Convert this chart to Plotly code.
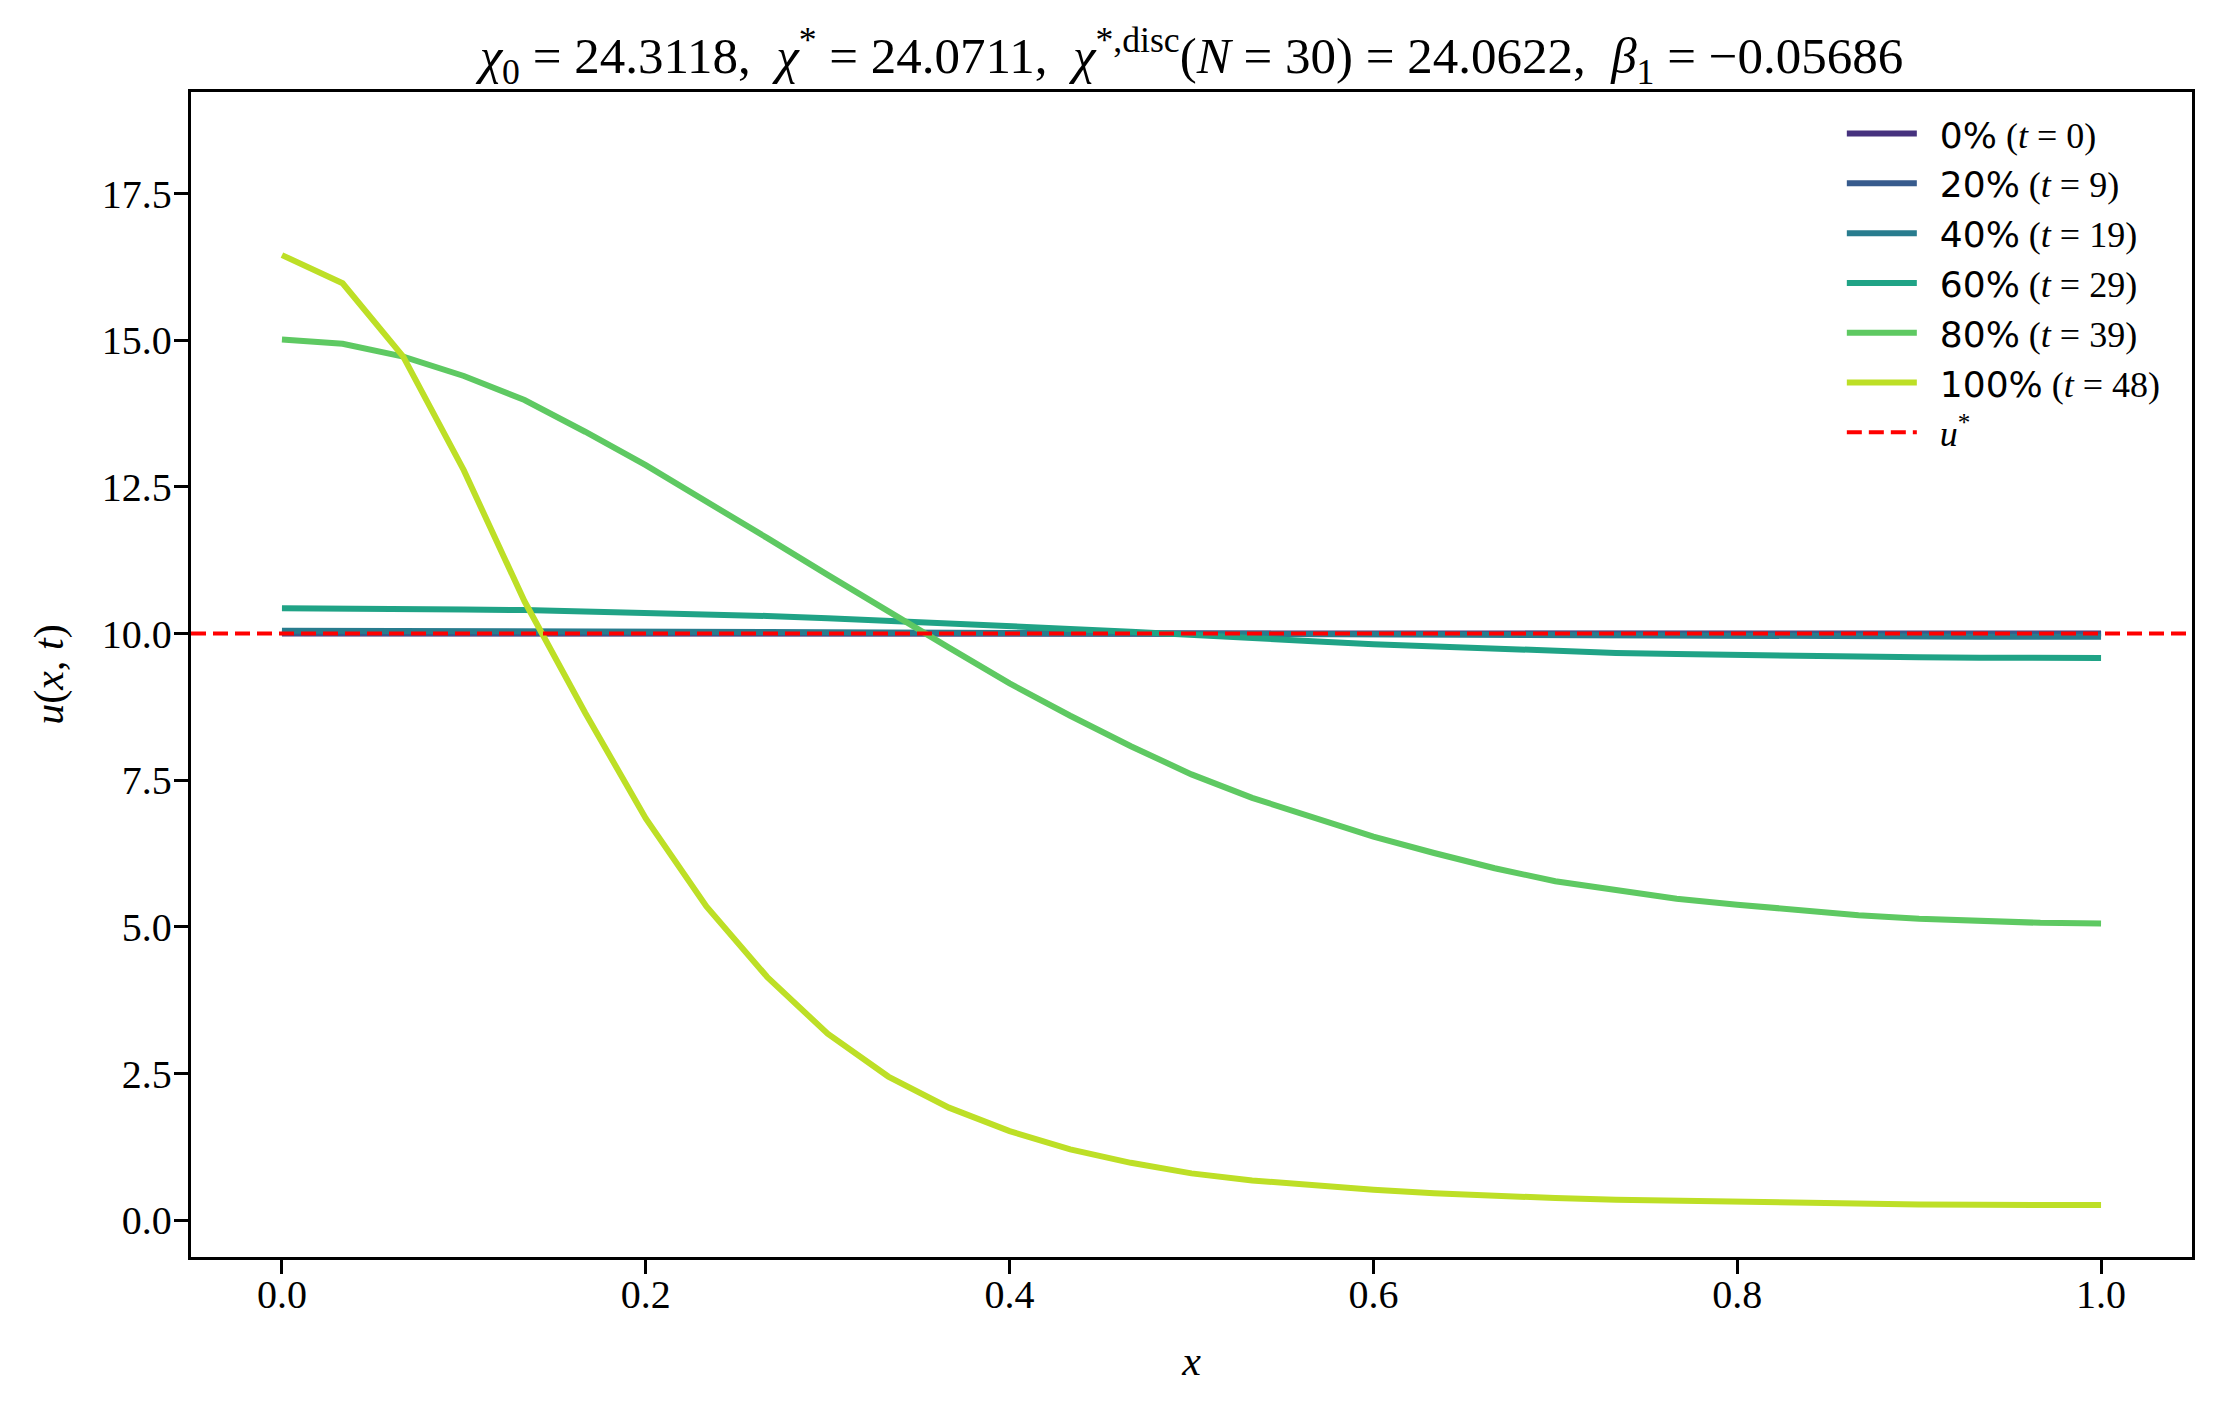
import numpy as np
import plotly.graph_objects as go

# grid: N = 30 intervals on [0, 1]
x = np.linspace(0, 1, 31)

labels = ["0%", "20%", "40%", "60%", "80%", "100%"]
t_vals = [0, 9, 19, 29, 39, 48]
colors = ["#46327e", "#375b8d", "#287c8e", "#20a386", "#5ec962", "#bddf26"]

u_0 = [10.0] * 31
u_20 = [10.01, 10.01, 10.01, 10.01, 10.009, 10.008, 10.007, 10.006, 10.005, 10.004,
        10.003, 10.002, 10.001, 10.001, 10.0, 10.0, 10.0, 9.999, 9.999, 9.998,
        9.997, 9.996, 9.995, 9.994, 9.993, 9.992, 9.991, 9.991, 9.99, 9.99, 9.99]
u_40 = [10.05, 10.05, 10.05, 10.045, 10.043, 10.04, 10.036, 10.032, 10.027, 10.022,
        10.017, 10.012, 10.007, 10.002, 9.998, 9.994, 9.99, 9.985, 9.98, 9.976,
        9.972, 9.968, 9.964, 9.96, 9.957, 9.954, 9.952, 9.95, 9.948, 9.947, 9.947]
u_60 = [10.43, 10.43, 10.42, 10.41, 10.40, 10.38, 10.36, 10.33, 10.30, 10.26,
        10.22, 10.18, 10.13, 10.08, 10.03, 9.97, 9.92, 9.87, 9.82, 9.78,
        9.74, 9.70, 9.67, 9.65, 9.63, 9.615, 9.60, 9.595, 9.59, 9.585, 9.585]
u_80 = [15.01, 14.94, 14.72, 14.39, 13.98, 13.44, 12.87, 12.26, 11.63, 11.00,
        10.37, 9.76, 9.15, 8.60, 8.08, 7.60, 7.20, 6.86, 6.54, 6.26,
        6.00, 5.78, 5.62, 5.48, 5.38, 5.28, 5.20, 5.14, 5.10, 5.07, 5.06]
u_100 = [16.45, 15.97, 14.72, 12.78, 10.55, 8.65, 6.85, 5.35, 4.15, 3.18,
         2.45, 1.92, 1.52, 1.21, 0.98, 0.80, 0.68, 0.59, 0.52, 0.46,
         0.41, 0.38, 0.35, 0.33, 0.31, 0.29, 0.28, 0.27, 0.265, 0.26, 0.26]
profiles = [u_0, u_20, u_40, u_60, u_80, u_100]

u_star = 10.0

serif = "Liberation Serif, DejaVu Serif, serif"
sans = "DejaVu Sans"

fig = go.Figure()

for lab, t, col, u in zip(labels, t_vals, colors, profiles):
    name = (f'&nbsp;&nbsp;<span style="font-family:{sans};font-size:36px">{lab}</span>'
            f' (<i>t</i> = {t})')
    fig.add_trace(go.Scatter(x=x, y=u, mode='lines', name=name,
                             line=dict(color=col, width=6)))

# u* reference line across the whole axis, plus a legend entry for it
fig.add_hline(y=u_star, line=dict(color='red', width=4, dash='15px,7px'))
fig.add_trace(go.Scatter(x=[None], y=[None], mode='lines',
                         name='&nbsp;&nbsp;<i>u</i><sup>*</sup>',
                         line=dict(color='red', width=4, dash='15px,7px')))

title = ("<i>χ</i><sub>0</sub> = 24.3118,  <i>χ</i><sup>*</sup> = 24.0711,  "
         "<i>χ</i><sup>*,disc</sup>(<i>N</i> = 30) = 24.0622,  "
         "<i>β</i><sub>1</sub> = −0.05686")

axis_style = dict(showline=True, linecolor='black', linewidth=3.3, mirror=True,
                  ticks='outside', ticklen=14, tickwidth=3.3, tickcolor='black',
                  showgrid=False, zeroline=False,
                  tickfont=dict(family=serif, size=40, color='black'))

fig.update_layout(
    width=2212, height=1401,
    margin=dict(l=183, r=28, t=84, b=152, autoexpand=False),
    paper_bgcolor='white', plot_bgcolor='white',
    title=dict(text=title, x=0.535, xanchor='center', y=0.966, yanchor='middle',
               font=dict(family=serif, size=51, color='black')),
    xaxis=dict(range=[-0.05, 1.05], tickvals=[0, 0.2, 0.4, 0.6, 0.8, 1.0],
               ticktext=['0.0', '0.2', '0.4', '0.6', '0.8', '1.0'],
               ticklabelstandoff=-14,
               title=dict(text='<i>x</i>', font=dict(family=serif, size=42, color='black'),
                          standoff=30),
               **axis_style),
    yaxis=dict(range=[-0.625, 19.23], tickvals=[0, 2.5, 5, 7.5, 10, 12.5, 15, 17.5],
               ticktext=['0.0', '2.5', '5.0', '7.5', '10.0', '12.5', '15.0', '17.5'],
               ticklabelstandoff=-6,
               title=dict(text='<i>u</i>(<i>x</i>, <i>t</i>)',
                          font=dict(family=serif, size=42, color='black'), standoff=26),
               **axis_style),
    legend=dict(x=0.825, y=0.99, xanchor='left', yanchor='top',
                bgcolor='rgba(255,255,255,0)', borderwidth=0,
                font=dict(family=serif, size=36, color='black'),
                tracegroupgap=0, itemwidth=70),
    showlegend=True,
)

fig.write_html("out.html")
